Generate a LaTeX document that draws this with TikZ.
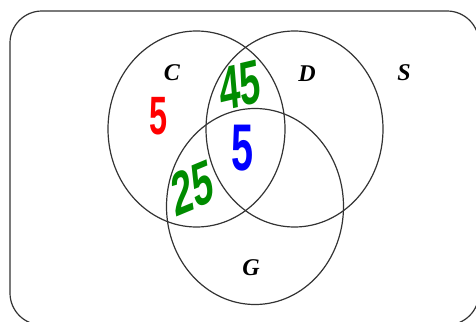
\documentclass[tikz,border=0pt]{standalone}
\usepackage{fontspec}
\setmainfont{Liberation Serif}
\newfontfamily\handfont{Liberation Sans}
\usetikzlibrary{shapes.geometric}
\definecolor{penred}{RGB}{255,0,0}
\definecolor{pengreen}{RGB}{0,140,0}
\definecolor{penblue}{RGB}{0,0,255}

\begin{document}
\begin{tikzpicture}[
  x=0.5pt,y=-0.5pt,
  set/.style={ellipse,draw=black!80,line width=0.6pt,minimum width=88.5pt,
    minimum height=98pt,inner sep=0pt},
  setname/.style={font=\fontsize{12}{12}\selectfont\bfseries\itshape},
  count/.style={inner sep=0pt,xscale=0.6,font=\fontsize{31}{31}\selectfont\handfont\bfseries}
]
  \useasboundingbox (0,0) rectangle (476,321);
  % universe S, runs off the right and bottom edges
  \begin{scope}
    \clip (0,0) rectangle (476,321);
    \draw[black!80,line width=0.6pt,rounded corners=16pt] (10,11) rectangle (479,325);
  \end{scope}
  \node[set] (setC) at (196.5,129) {};
  \node[set] (setD) at (294.5,129) {};
  \node[set] (setG) at (255,206.5) {};
  \node[setname] (nameC) at (172,73) {C};
  \node[setname] (nameD) at (307,74) {D};
  \node[setname] (nameS) at (404,73) {S};
  \node[setname] (nameG) at (251,268) {G};
  % hand written counts
  \node[count,text=penred,font=\fontsize{27}{27}\selectfont\handfont\bfseries] (onlyC) at (159,116) {5};
  \node[count,text=pengreen,rotate=8] (CD) at (240,86) {45};
  \node[count,text=penblue,font=\fontsize{33}{33}\selectfont\handfont\bfseries] (CDG) at (243,148) {5};
  \node[count,text=pengreen,rotate=14] (CG) at (192,188) {25};
\end{tikzpicture}
\end{document}
